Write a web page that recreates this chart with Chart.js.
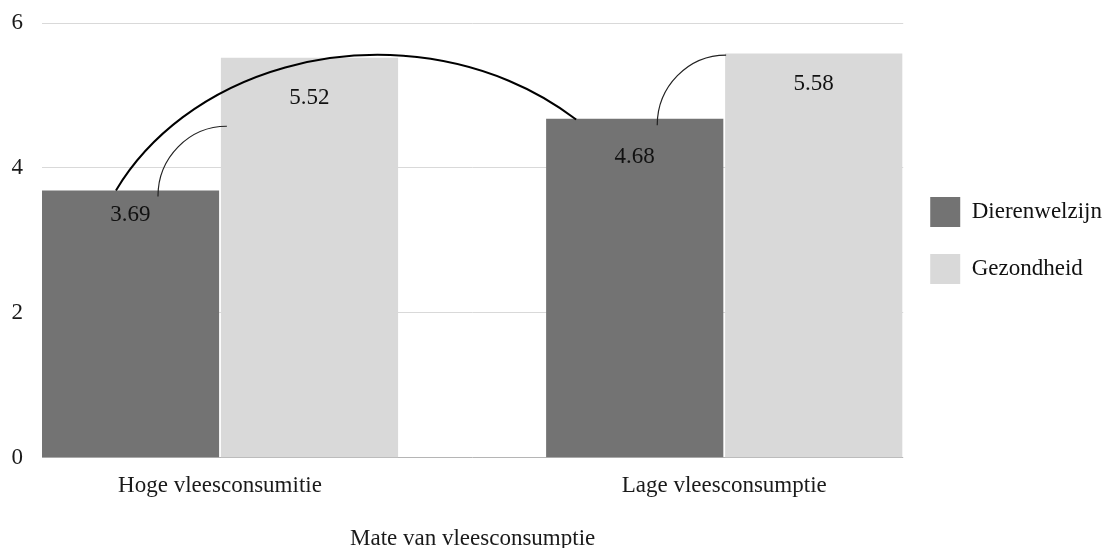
<!DOCTYPE html>
<html>
<head>
<meta charset="utf-8">
<script src="https://cdn.jsdelivr.net/npm/chart.js@4"></script>
<style>
  body { margin: 0; background: #fff; }
  #wrap { width: 1103px; height: 548px; }
</style>
</head>
<body>
<div id="wrap"><canvas id="Plot"></canvas></div>
<script>
var categories = ["Hoge vleesconsumitie", "Lage vleesconsumptie"];
var dierenwelzijn = [3.69, 4.68];
var gezondheid = [5.52, 5.58];
var yTicks = [0, 2, 4, 6];

// labels inside the bars sit a bit lower or higher per bar, like in the original
var labelDrop = [[25, 38], [40, 31]];

Chart.defaults.font.family = '"Liberation Serif", "Times New Roman", serif';
Chart.defaults.font.size = 23;
Chart.defaults.color = '#1a1a1a';

function points(vals) {
  return vals.map((v, i) => ({x: i, y: v}));
}

function barAt(chart, ds, i) {
  return chart.getDatasetMeta(ds).data[i];
}

// value labels inside the bars
var barLabels = {
  id: 'barLabels',
  afterDatasetsDraw(chart) {
    var c = chart.ctx;
    c.save();
    c.font = '23px "Liberation Serif", serif';
    c.fillStyle = '#111';
    c.textAlign = 'center';
    c.textBaseline = 'middle';
    chart.data.datasets.forEach((d, ds) => {
      chart.getDatasetMeta(ds).data.forEach((bar, i) => {
        c.fillText(d.data[i].y.toFixed(2), bar.x, bar.y + labelDrop[ds][i]);
      });
    });
    c.restore();
  }
};

// the curved connector lines
var connectors = {
  id: 'connectors',
  afterDatasetsDraw(chart) {
    var c = chart.ctx;
    var y = chart.scales.y;
    c.save();

    // big arc from the first dark bar over to the second dark bar
    var b1 = barAt(chart, 0, 0), b2 = barAt(chart, 0, 1);
    var S = {x: b1.x - b1.width * 0.082, y: b1.y};
    var E = {x: b2.x - b2.width * 0.325, y: b2.y};
    var cx = S.x + 0.568 * (E.x - S.x);
    var peak = y.getPixelForValue(5.56);
    var ry = 245, cy = peak + ry;
    var rx = Math.abs(S.x - cx) / Math.sqrt(1 - Math.pow((S.y - cy) / ry, 2));
    var a0 = Math.atan2((S.y - cy) / ry, (S.x - cx) / rx);
    var a1 = Math.atan2((E.y - cy) / ry, (E.x - cx) / rx);
    c.beginPath();
    c.ellipse(cx, cy, rx, ry, 0, a0, a1, false);
    c.strokeStyle = '#000';
    c.lineWidth = 2;
    c.stroke();

    // small quarter arcs from dark bar to light bar
    function quarter(from, to) {
      c.beginPath();
      c.ellipse(to.x, from.y, to.x - from.x, from.y - to.y, 0, Math.PI, 1.5 * Math.PI, false);
      c.strokeStyle = '#222';
      c.lineWidth = 1.2;
      c.stroke();
    }
    var d1 = barAt(chart, 0, 0), l1 = barAt(chart, 1, 0);
    quarter({x: d1.x + d1.width * 0.155, y: d1.y + 6},
            {x: l1.x - l1.width / 2 + 6, y: y.getPixelForValue(4.575)});
    var d2 = barAt(chart, 0, 1), l2 = barAt(chart, 1, 1);
    quarter({x: d2.x + d2.width * 0.127, y: d2.y + 6.5},
            {x: l2.x - l2.width / 2 + 1, y: l2.y + 1.6});

    c.restore();
  }
};

var ctx = document.getElementById("Plot").getContext('2d');
var myChart = new Chart(ctx, {
  type: 'bar',
  data: {
    datasets: [{
      label: 'Dierenwelzijn',
      data: points(dierenwelzijn),
      backgroundColor: '#737373',
      borderWidth: 0,
      categoryPercentage: 0.71,
      barPercentage: 0.99
    }, {
      label: 'Gezondheid',
      data: points(gezondheid),
      backgroundColor: '#d9d9d9',
      borderWidth: 0,
      categoryPercentage: 0.71,
      barPercentage: 0.99
    }]
  },
  options: {
    responsive: true,
    maintainAspectRatio: false,
    animation: false,
    layout: {padding: {top: 23, left: 11, right: -9, bottom: 0}},
    plugins: {
      legend: {
        position: 'right',
        fullSize: false,
        labels: {
          boxWidth: 30,
          boxHeight: 30,
          padding: 27,
          color: '#111',
          font: {size: 23}
        }
      },
      tooltip: {enabled: false}
    },
    scales: {
      x: {
        type: 'linear',
        min: -0.353,
        max: 1.355,
        offset: false,
        afterBuildTicks: (s) => { s.ticks = categories.map((c, i) => ({value: i})); },
        ticks: {
          callback: (v) => categories[v],
          autoSkip: false,
          maxRotation: 0,
          padding: 14
        },
        grid: {display: false, drawTicks: false},
        border: {display: false},
        title: {
          display: true,
          text: 'Mate van vleesconsumptie',
          padding: {top: 12, bottom: -5}
        }
      },
      y: {
        min: 0,
        max: 6,
        afterBuildTicks: (s) => { s.ticks = yTicks.map(v => ({value: v})); },
        afterFit: (s) => { s.width = 31; s.paddingTop = 0; s.paddingBottom = 0; },
        ticks: {padding: 19},
        grid: {
          drawTicks: false,
          color: (c) => c.tick && c.tick.value === 0 ? '#b5b5b5' : '#d9d9d9',
          lineWidth: 1
        },
        border: {display: false}
      }
    }
  },
  plugins: [barLabels, connectors]
});
</script>
</body>
</html>
